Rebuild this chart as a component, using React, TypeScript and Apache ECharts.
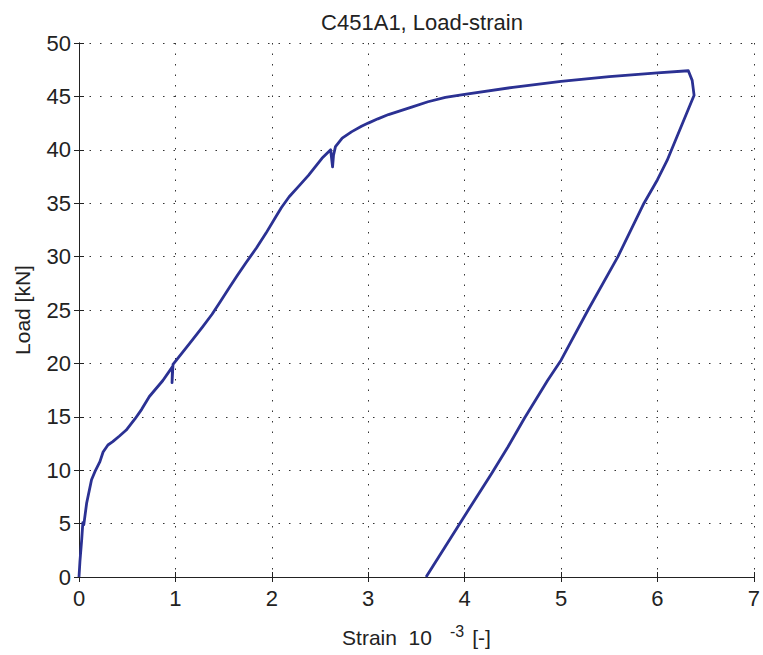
import React, { useEffect, useRef } from "react";
import * as echarts from "echarts";

const titleText = "C451A1, Load-strain";
const xTicks = [0, 1, 2, 3, 4, 5, 6, 7];
const yTicks = [0, 5, 10, 15, 20, 25, 30, 35, 40, 45, 50];

// strain (10^-3) and load (kN) along the test path
const strain = [
  0, 0.01, 0.028, 0.04, 0.05, 0.079, 0.13, 0.165, 0.217, 0.25, 0.3, 0.35, 0.42, 0.49, 0.58,
  0.65, 0.73, 0.87, 0.97, 0.965, 0.975, 1.01, 1.15, 1.28, 1.38, 1.46, 1.56, 1.64, 1.73, 1.84,
  1.94, 2.04, 2.1, 2.18, 2.28, 2.38, 2.52, 2.61, 2.63, 2.64, 2.66, 2.73, 2.83, 2.93, 3.0, 3.1,
  3.21, 3.33, 3.45, 3.62, 3.8, 4.0, 4.5, 5.0, 5.5, 6.0, 6.32, 6.36, 6.38, 6.1, 6.0, 5.86,
  5.59, 5.28, 5.0, 4.86, 4.62, 4.45, 4.28, 3.97, 3.6,
];
const load = [
  0, 1.5, 3.5, 5.1, 4.9, 6.9, 9.1, 9.86, 10.8, 11.7, 12.36, 12.67, 13.2, 13.76, 14.8,
  15.7, 16.9, 18.4, 19.7, 18.2, 19.9, 20.3, 21.9, 23.4, 24.6, 25.7, 27.1, 28.2, 29.4, 30.8,
  32.2, 33.7, 34.6, 35.6, 36.6, 37.6, 39.2, 40.0, 38.4, 39.5, 40.3, 41.1, 41.7, 42.2, 42.5, 42.9,
  43.3, 43.65, 44.0, 44.5, 44.9, 45.2, 45.85, 46.4, 46.85, 47.2, 47.4, 46.5, 45.1, 39.0, 37.2, 35.0,
  30.0, 25.0, 20.3, 18.4, 14.86, 12.2, 9.7, 5.3, 0,
];

export default function App() {
  const ref = useRef<HTMLDivElement>(null);
  useEffect(() => {
    if (!ref.current) return;
    const chart = echarts.init(ref.current, undefined, { renderer: "svg" });
    const font = "Liberation Sans, Arial, sans-serif";
    const textColor = "#222";
    const axisLine = { show: true, lineStyle: { color: "#222", width: 1 } };
    const tick = { show: true, inside: true, length: 5, lineStyle: { color: "#222" } };
    const split = { show: true, lineStyle: { color: "#333", type: [1.5, 9] as any, width: 1 } };
    const xMin = xTicks[0], xMax = xTicks[xTicks.length - 1];
    const yMin = yTicks[0], yMax = yTicks[yTicks.length - 1];
    chart.setOption({
      animation: false,
      backgroundColor: "#fff",
      title: {
        text: titleText,
        left: 417,
        textAlign: "center",
        top: 6,
        textStyle: { fontFamily: font, fontSize: 22, fontWeight: "normal", color: textColor },
      },
      grid: { left: 79, top: 43, right: 6, bottom: 78 },
      xAxis: [
        {
          type: "value",
          min: xMin,
          max: xMax,
          interval: 1,
          axisLine,
          axisTick: tick,
          splitLine: split,
          axisLabel: { fontFamily: font, fontSize: 22, color: textColor, margin: 10 },
          name: "{a|Strain  10}{s|-3}{b|[-]}",
          nameLocation: "middle",
          nameGap: 46,
          nameTextStyle: {
            fontFamily: font,
            fontSize: 21,
            color: textColor,
            rich: {
              a: { fontFamily: font, fontSize: 21, color: textColor },
              s: { fontFamily: font, fontSize: 16, color: textColor, padding: [0, 8, 12, 18] },
              b: { fontFamily: font, fontSize: 21, color: textColor },
            },
          },
        },
        {
          type: "value",
          position: "top",
          min: xMin,
          max: xMax,
          interval: 1,
          axisLine,
          axisTick: tick,
          splitLine: { show: false },
          axisLabel: { show: false },
        },
      ],
      yAxis: [
        {
          type: "value",
          min: yMin,
          max: yMax,
          interval: 5,
          axisLine,
          axisTick: tick,
          splitLine: split,
          axisLabel: { fontFamily: font, fontSize: 22, color: textColor, margin: 8 },
          name: "Load [kN]",
          nameLocation: "middle",
          nameGap: 46,
          nameTextStyle: { fontFamily: font, fontSize: 21, color: textColor },
        },
        {
          type: "value",
          position: "right",
          min: yMin,
          max: yMax,
          interval: 5,
          axisLine,
          axisTick: tick,
          splitLine: { show: false },
          axisLabel: { show: false },
        },
      ],
      series: [
        {
          type: "line",
          xAxisIndex: 0,
          yAxisIndex: 0,
          data: strain.map((s, i) => [s, load[i]]),
          showSymbol: false,
          symbol: "none",
          lineStyle: { color: "#2b3193", width: 2.8, join: "round" },
        },
      ],
    });
    return () => chart.dispose();
  }, []);
  return (
    <div
      ref={ref}
      style={{ position: "absolute", left: 0, top: 0, width: 763, height: 655 }}
    />
  );
}
